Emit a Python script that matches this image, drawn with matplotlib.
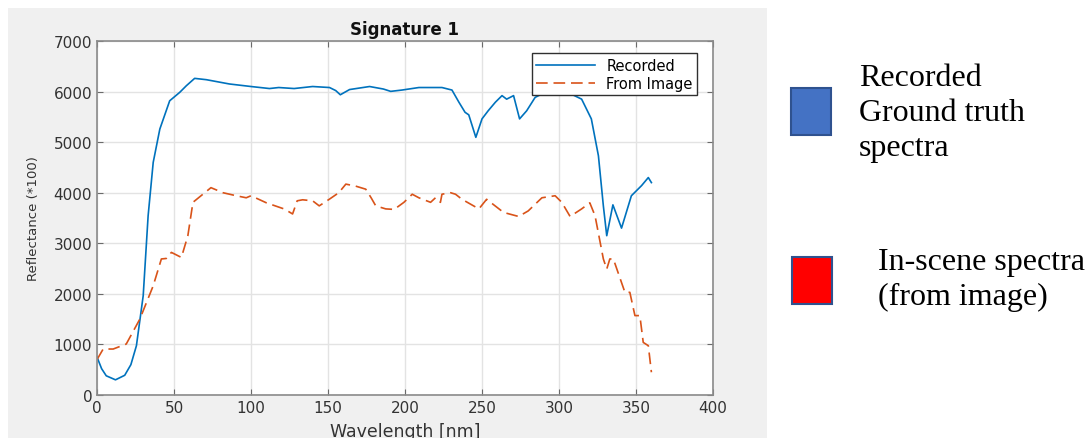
import matplotlib.pyplot as plt
from matplotlib.patches import Rectangle

# wavelength [nm] / reflectance (*100)
rec_wl = [0, 3, 6, 12, 18, 22, 25.6, 30, 33.2, 36.5, 40.8, 47.2, 53.7, 58, 63.4, 71, 86, 100, 112, 118,
          128, 140, 151, 155, 158, 164, 177, 186, 190.7, 198, 209, 224, 230.5, 235, 239, 241.4, 246, 250,
          254, 258.7, 263, 266, 270.5, 274.4, 279, 284.5, 292, 300, 308, 314.7, 321, 325.6, 328.8, 331,
          335, 340.6, 347, 353.6, 358, 360]
rec_val = [750, 520, 380, 300, 390, 600, 975, 1963, 3545, 4600, 5259, 5818, 5984, 6115, 6261, 6235, 6150,
           6100, 6060, 6080, 6060, 6100, 6080, 6020, 5937, 6040, 6100, 6050, 6004, 6030, 6080, 6080, 6030,
           5790, 5590, 5540, 5095, 5460, 5620, 5790, 5920, 5850, 5920, 5460, 5620, 5885, 6000, 6060, 5950,
           5850, 5460, 4730, 3740, 3150, 3760, 3300, 3940, 4140, 4300, 4200]

img_wl = [0, 4, 10.5, 19, 27.8, 36.5, 41.8, 45, 48.3, 54.8, 59, 62.3, 74, 81.8, 90.4, 96.9, 100, 110,
          121.7, 127, 130, 133.5, 140, 144.3, 150.8, 157, 161.6, 168, 174.5, 178, 181, 187.5, 193, 199.3,
          204.7, 209, 216.6, 219.8, 223, 224, 229.6, 232.8, 237, 248, 253, 264, 273.8, 280, 288.9, 297.5,
          301.8, 307.2, 314.7, 320, 323.4, 328.8, 331, 333, 335.3, 342.8, 346, 349.3, 352.5, 354.7, 358, 360]
img_val = [700, 909, 909, 1008, 1500, 2160, 2690, 2700, 2820, 2720, 3150, 3810, 4100, 4000, 3940, 3900,
           3940, 3800, 3677, 3580, 3840, 3860, 3840, 3740, 3870, 4000, 4170, 4130, 4070, 3900, 3740, 3680,
           3670, 3810, 3970, 3900, 3810, 3900, 3810, 3970, 4000, 3970, 3870, 3680, 3870, 3610, 3530, 3640,
           3900, 3940, 3810, 3530, 3680, 3800, 3545, 2690, 2490, 2690, 2690, 2030, 2030, 1570, 1570, 1040,
           975, 450]

xticks = [0, 50, 100, 150, 200, 250, 300, 350, 400]
yticks = [0, 1000, 2000, 3000, 4000, 5000, 6000, 7000]

W, H = 1091, 439
fig = plt.figure(figsize=(W / 100, H / 100), dpi=100, facecolor='white')

# grey matlab figure background
fig.patches.append(Rectangle((8 / W, 0), (767 - 8) / W, 1 - 9 / H, transform=fig.transFigure,
                             facecolor='#f0f0f0', edgecolor='none', zorder=-10))

ax = fig.add_axes([97 / W, 1 - 396 / H, (713 - 97) / W, (396 - 42) / H])
ax.plot(rec_wl, rec_val, color='#0072BD', lw=1.2, label='Recorded')
ax.plot(img_wl, img_val, color='#D95319', lw=1.2, dashes=(7, 3.5), label='From Image')

ax.set_xlim(0, 400)
ax.set_ylim(0, 7000)
ax.set_xticks(xticks)
ax.set_yticks(yticks)
ax.grid(True, color='#e3e3e3', lw=1)
ax.set_axisbelow(True)
for s in ax.spines.values():
    s.set_color('#8a8a8a')
    s.set_linewidth(1.2)
ax.tick_params(direction='in', top=True, right=True, length=4, color='#6a6a6a',
               labelsize=11, labelcolor='#333333')
ax.set_title('Signature 1', fontsize=12, fontweight='bold', pad=5, color='#111111')
ax.set_xlabel('Wavelength [nm]', fontsize=12.5, color='#333333', labelpad=5)
ax.set_ylabel('Reflectance (*100)', fontsize=9.5, color='#333333', labelpad=10)

leg = ax.legend(loc='upper right', bbox_to_anchor=(0.979, 0.973), fontsize=10.5, handlelength=4.0,
                fancybox=False, framealpha=1, edgecolor='#303030', borderpad=0.3, labelspacing=0.2,
                borderaxespad=0.2)
leg.get_frame().set_linewidth(1.0)

# side annotation boxes
fig.patches.append(Rectangle((791 / W, 1 - 136 / H), 40 / W, 47 / H, transform=fig.transFigure,
                             facecolor='#4472C4', edgecolor='#2F528F', lw=1.5))
fig.patches.append(Rectangle((792 / W, 1 - 305 / H), 40 / W, 47 / H, transform=fig.transFigure,
                             facecolor='#FF0000', edgecolor='#2F528F', lw=1.5))
fig.text(859 / W, 1 - 64 / H, 'Recorded\nGround truth\nspectra', fontsize=23, family='Liberation Serif',
         va='top', ha='left', linespacing=1.27)
fig.text(878 / W, 1 - 248 / H, 'In-scene spectra\n(from image)', fontsize=23, family='Liberation Serif',
         va='top', ha='left', linespacing=1.27)

fig.savefig('out.png', dpi=100)
